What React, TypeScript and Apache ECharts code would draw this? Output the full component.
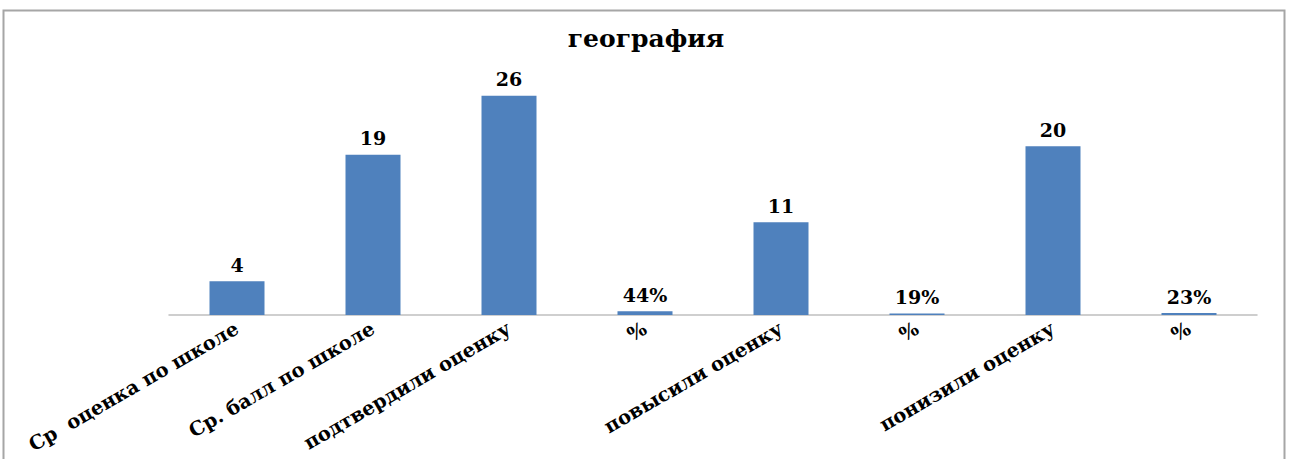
import React, { useEffect, useRef } from "react";
import * as echarts from "echarts";

const categories = [
  "Ср  оценка по школе",
  "Ср. балл по школе",
  "подтвердили оценку",
  "%",
  "повысили оценку",
  "%",
  "понизили оценку",
  "%",
];
const values = [4, 19, 26, 0.44, 11, 0.19, 20, 0.23];
const valueLabels = ["4", "19", "26", "44%", "11", "19%", "20", "23%"];
const title = "география";

export default function App() {
  const ref = useRef<HTMLDivElement>(null);
  useEffect(() => {
    const chart = echarts.init(ref.current!, null, { renderer: "svg" });
    const font = "'DejaVu Serif', 'Liberation Serif', serif";
    chart.setOption({
      animation: false,
      backgroundColor: "#ffffff",
      title: {
        text: title,
        left: 641,
        textAlign: "center",
        top: 21,
        textStyle: { fontFamily: font, fontWeight: "bold", fontSize: 25, color: "#000" },
      },
      graphic: [
        {
          type: "rect",
          shape: { x: 3.5, y: 10.5, width: 1281, height: 470 },
          style: { fill: "none", stroke: "#a6a6a6", lineWidth: 2 },
          silent: true,
        },
      ],
      grid: {
        left: 169,
        right: 36,
        top: 62,
        bottom: 144,
        containLabel: false,
        outerBoundsMode: "none",
      },
      xAxis: {
        type: "category",
        data: categories,
        axisLine: { lineStyle: { color: "#bfbfbf", width: 1.5 } },
        axisTick: { show: false },
        axisLabel: {
          interval: 0,
          rotate: 30,
          margin: 12,
          fontFamily: font,
          fontWeight: "bold",
          fontSize: 19.5,
          color: "#000",
        },
      },
      yAxis: { type: "value", min: 0, max: 30, show: false, splitLine: { show: false } },
      series: [
        {
          type: "bar",
          data: values,
          barWidth: 55,
          itemStyle: { color: "#4f81bd" },
          label: {
            show: true,
            position: "top",
            distance: 7,
            fontFamily: font,
            fontWeight: "bold",
            fontSize: 19,
            color: "#000",
            formatter: (p: any) => valueLabels[p.dataIndex],
          },
        },
      ],
    });
    return () => chart.dispose();
  }, []);
  return (
    <div
      ref={ref}
      style={{ position: "fixed", left: 0, top: 0, width: 1293, height: 459 }}
    />
  );
}
